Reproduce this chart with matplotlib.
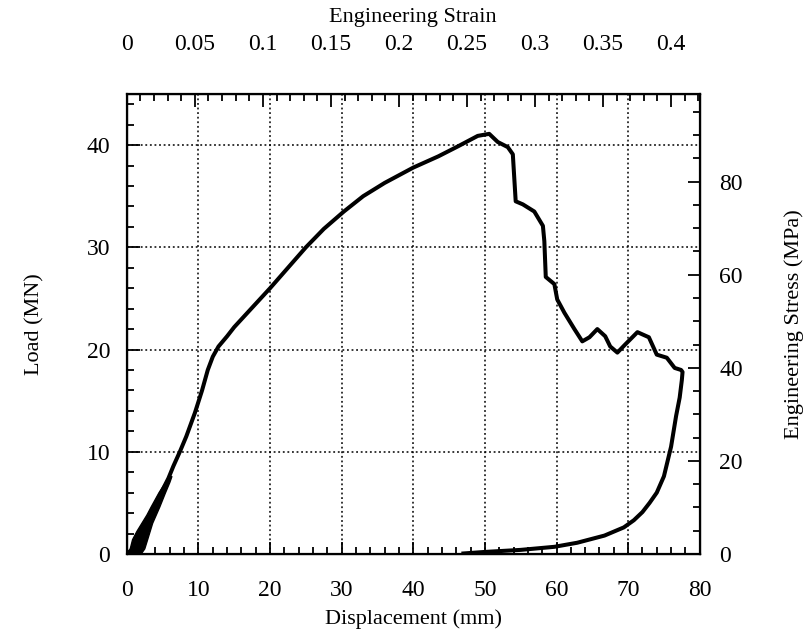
import numpy as np
import matplotlib
matplotlib.use('Agg')
import matplotlib.pyplot as plt
from matplotlib.ticker import MultipleLocator, FuncFormatter

plt.rcParams['font.family'] = ['Liberation Serif', 'DejaVu Serif']

# Initial loading band (hysteresis), displacement (mm) / load (MN)
band_upper_x = [0.0, 0.4, 0.8, 1.4, 2.1, 2.8, 3.4, 4.5, 5.8]
band_upper_y = [0.0, 0.3, 1.4, 2.2, 3.0, 3.8, 4.6, 6.0, 7.4]
band_lower_x = [2.0, 2.5, 2.9, 3.6, 4.6, 5.4, 6.0, 6.3]
band_lower_y = [0.0, 0.5, 1.4, 3.0, 4.6, 6.0, 7.0, 7.6]

# Main load-displacement curve
disp = [0.0, 0.8, 1.6, 2.5, 3.5, 4.5, 5.8, 6.5, 7.4, 8.3, 9.5, 10.5, 11.3, 12.0, 12.8, 14.0,
        15.0, 17.5, 20.0, 22.5, 25.0, 27.5, 30.3, 33.0, 36.0, 40.0, 43.5, 46.3, 49.0, 50.6,
        51.8, 53.2, 53.9, 54.3, 55.3, 56.9, 58.1, 58.3, 58.5, 59.7, 60.1, 61.1, 62.5, 63.6,
        64.6, 65.7, 66.8, 67.5, 68.5, 69.6, 71.3, 72.9, 74.0, 75.4, 76.5, 77.4, 77.6,
        77.5, 77.2, 76.7, 76.0, 75.0, 74.0, 73.0, 72.0, 70.8, 69.4, 66.7, 62.9, 59.7,
        55.0, 50.0, 47.0]
load = [0.0, 0.5, 1.5, 2.8, 4.2, 5.6, 7.4, 8.6, 10.0, 11.5, 13.8, 16.0, 18.0, 19.3, 20.3, 21.3,
        22.2, 24.1, 26.0, 28.0, 30.0, 31.8, 33.5, 35.0, 36.3, 37.8, 38.9, 39.9, 40.9, 41.1,
        40.3, 39.8, 39.1, 34.5, 34.2, 33.5, 32.1, 30.6, 27.1, 26.4, 24.9, 23.6, 22.0, 20.8,
        21.2, 22.0, 21.3, 20.3, 19.7, 20.5, 21.7, 21.2, 19.5, 19.2, 18.2, 18.0, 17.8,
        17.0, 15.3, 13.5, 10.5, 7.6, 6.0, 5.0, 4.1, 3.3, 2.6, 1.8, 1.1, 0.7,
        0.4, 0.2, 0.05]

gauge_length = 190.0   # mm, strain = disp / gauge_length
area = 0.4553          # m^2, stress = load / area

fig = plt.figure(figsize=(8.08, 6.35), dpi=100)
ax = fig.add_axes([0.157, 0.1276, 0.709, 0.7244])

ax.fill(np.concatenate([band_upper_x, band_lower_x[::-1]]),
        np.concatenate([band_upper_y, band_lower_y[::-1]]), color='black', lw=1)
ax.plot(disp, load, color='black', lw=2.9, solid_joinstyle='round')

ax.set_xlim(0, 80)
ax.set_ylim(0, 45)
ax.xaxis.set_major_locator(MultipleLocator(10))
ax.xaxis.set_minor_locator(MultipleLocator(2))
ax.yaxis.set_major_locator(MultipleLocator(10))
ax.yaxis.set_minor_locator(MultipleLocator(2))
ax.grid(True, which='major', color='black', linestyle=(0, (1.2, 1.8)), lw=1.1)
ax.tick_params(which='both', direction='in', top=False, right=False, labelsize=17, width=1.3)
ax.tick_params(axis='x', which='major', length=9, pad=19)
ax.tick_params(axis='y', which='major', length=9, pad=12)
ax.tick_params(which='minor', length=5)
ax.set_xlabel('Displacement (mm)', fontsize=16, labelpad=6)
ax.set_ylabel('Load (MN)', fontsize=16, labelpad=30)
for s in ax.spines.values():
    s.set_linewidth(1.6)

fmt = FuncFormatter(lambda v, p: '%g' % round(v, 4))

ax_r = ax.twinx()
ax_r.set_ylim(0, 45 / area)
ax_r.yaxis.set_major_locator(MultipleLocator(20))
ax_r.yaxis.set_minor_locator(MultipleLocator(5))
ax_r.tick_params(which='both', direction='in', labelsize=17, width=1.3)
ax_r.tick_params(which='major', length=9, pad=14)
ax_r.tick_params(which='minor', length=5)
ax_r.set_ylabel('Engineering Stress (MPa)', fontsize=16, labelpad=30)

ax_t = ax.twiny()
ax_t.set_xlim(0, 80 / gauge_length)
ax_t.xaxis.set_major_locator(MultipleLocator(0.05))
ax_t.xaxis.set_minor_locator(MultipleLocator(0.01))
ax_t.xaxis.set_major_formatter(fmt)
ax_t.tick_params(which='both', direction='in', labelsize=17, width=1.3)
ax_t.tick_params(which='major', length=9, pad=28)
ax_t.tick_params(which='minor', length=5)
ax_t.set_xlabel('Engineering Strain', fontsize=16, labelpad=9)

fig.savefig('out.png', dpi=100)
